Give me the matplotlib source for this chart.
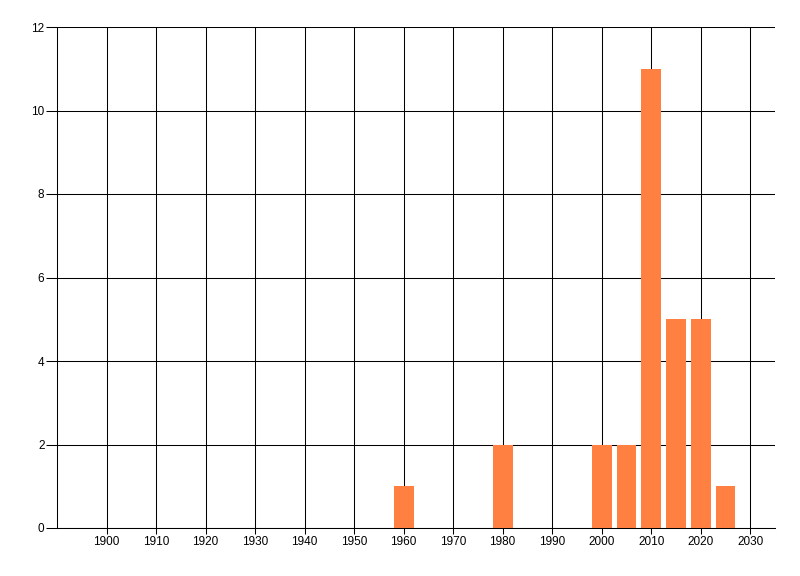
import matplotlib
matplotlib.use("Agg")
import matplotlib.pyplot as plt

years = [1960, 1980, 2000, 2005, 2010, 2015, 2020, 2025]
counts = [1, 2, 2, 2, 11, 5, 5, 1]
x_ticks = list(range(1900, 2031, 10))
y_ticks = [0, 2, 4, 6, 8, 10, 12]

plt.rcParams['font.family'] = ['Liberation Sans', 'DejaVu Sans']

fig = plt.figure(figsize=(8, 5.76), dpi=100)
ax = fig.add_axes([57/800, 1 - 528/576, (775 - 57)/800, (528 - 27)/576])

ax.bar(years, counts, width=4, color='#FF8040', zorder=3)

ax.set_xlim(1890, 2035)
ax.set_ylim(0, 12)
ax.set_xticks(x_ticks)
ax.set_yticks(y_ticks)
ax.grid(True, color='black', linewidth=0.75, zorder=0)
ax.set_axisbelow(True)

for s in ['top', 'right']:
    ax.spines[s].set_visible(False)
for s in ['left', 'bottom']:
    ax.spines[s].set_linewidth(0.75)

ax.tick_params(axis='y', length=8, width=0.75, labelsize=8.5, pad=1)
ax.tick_params(axis='x', length=4, width=0.75, labelsize=8.5, pad=2)

fig.savefig('out.png', dpi=100)
